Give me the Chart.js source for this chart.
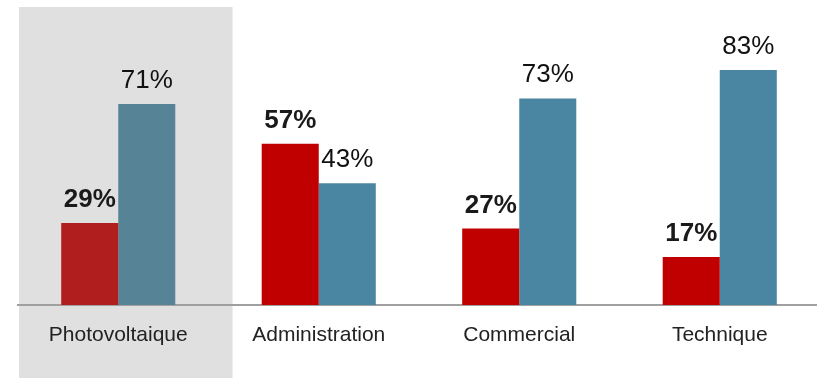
<!DOCTYPE html>
<html>
<head>
<meta charset="utf-8">
<script src="https://cdn.jsdelivr.net/npm/chart.js@4"></script>
<style>
  html, body { margin: 0; padding: 0; background: #fff; overflow: hidden; }
  #wrap { width: 820px; height: 378px; position: relative; }
</style>
</head>
<body>
<div id="wrap"><canvas id="chart"></canvas></div>
<script>
var categories = ['Photovoltaique', 'Administration', 'Commercial', 'Technique']
var redValues = [29, 57, 27, 17]
var blueValues = [71, 43, 73, 83]
var redColors = ['#b01e1e', '#c00000', '#c00000', '#c00000']
var blueColors = ['#578397', '#4a86a1', '#4a86a1', '#4a86a1']

var highlight = {
    id: 'highlight',
    beforeDraw(chart) {
        var { ctx, scales } = chart
        var x = scales.x
        var w = x.width / categories.length
        var c = x.getPixelForValue(0)
        ctx.save()
        ctx.fillStyle = '#e0e0e0'
        ctx.fillRect(c - 0.495 * w, 7, 1.065 * w, chart.height - 7)
        ctx.restore()
    }
}

var valueLabels = {
    id: 'valueLabels',
    afterDatasetsDraw(chart) {
        var { ctx } = chart
        ctx.save()
        ctx.textAlign = 'center'
        ctx.textBaseline = 'alphabetic'
        chart.data.datasets.forEach(function(ds, i) {
            var meta = chart.getDatasetMeta(i)
            ctx.font = (i === 0 ? 'bold ' : '') + '26px "Liberation Sans", Arial, sans-serif'
            ctx.fillStyle = i === 0 ? '#1a1a1a' : '#111'
            meta.data.forEach(function(bar, j) {
                ctx.fillText(ds.data[j] + '%', bar.x, bar.y - 16)
            })
        })
        ctx.restore()
    }
}

var el = document.getElementById('chart')
new Chart(el, {
    type: 'bar',
    data: {
        labels: categories,
        datasets: [
            { data: redValues, backgroundColor: redColors, borderWidth: 0 },
            { data: blueValues, backgroundColor: blueColors, borderWidth: 0 }
        ]
    },
    options: {
        responsive: true,
        maintainAspectRatio: false,
        animation: false,
        layout: { padding: { top: 22, left: 18, right: 0, bottom: 0 } },
        datasets: { bar: { categoryPercentage: 0.569, barPercentage: 1 } },
        plugins: { legend: { display: false }, tooltip: { enabled: false } },
        scales: {
            y: { display: false, min: 0, max: 100 },
            x: {
                grid: { display: false, drawTicks: false },
                border: { display: true, color: '#a0a0a0', width: 2 },
                ticks: {
                    color: '#222',
                    padding: 18,
                    font: { family: '"Liberation Sans", Arial, sans-serif', size: 21 }
                },
                afterFit(scale) { scale.height = 73 }
            }
        }
    },
    plugins: [highlight, valueLabels]
})
</script>
</body>
</html>
